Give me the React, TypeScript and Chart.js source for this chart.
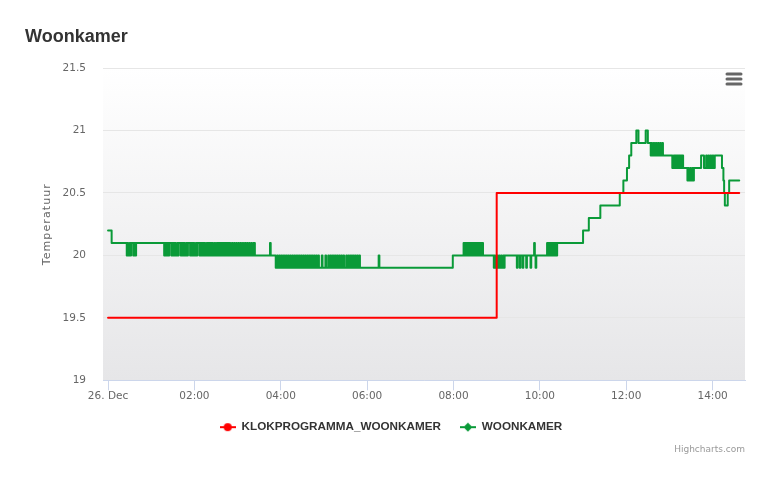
import React, { useEffect, useRef } from 'react';
import { Chart, registerables } from 'chart.js';

Chart.register(...registerables);

// ---- text ----
const chartTitle = 'Woonkamer';
const yAxisTitle = 'Temperatuur';
const seriesNames = ['KLOKPROGRAMMA_WOONKAMER', 'WOONKAMER'];
const creditText = 'Highcharts.com';

// ---- axes (x in minutes since 26 Dec 00:00) ----
const xMinMinutes = -7;
const xMaxMinutes = 885;
const xTickMinutes = [0, 120, 240, 360, 480, 600, 720, 840];
const xTickLabels = ['26. Dec', '02:00', '04:00', '06:00', '08:00', '10:00', '12:00', '14:00'];
const yTickValues = [19, 19.5, 20, 20.5, 21, 21.5];
const yTickLabels = ['19', '19.5', '20', '20.5', '21', '21.5'];

// ---- series: [minute, value] step changes ----
const klokSteps: [number, number][] = [
  [0, 19.5], [540, 20.5], [877, 20.5],
];

const woonNight: [number, number][] = [
  [0, 20.2], [5, 20.1],
  [26, 20.0], [27, 20.1], [28, 20.0], [30, 20.1], [31, 20.0], [32, 20.1], [35, 20.0], [36, 20.1], [38, 20.0], [39, 20.1],
  [78, 20.0], [79, 20.1], [81, 20.0], [82, 20.1], [84, 20.0], [85, 20.1], [88, 20.0], [89, 20.1], [91, 20.0], [92, 20.1],
  [94, 20.0], [96, 20.1], [97, 20.0], [98, 20.1], [101, 20.0], [102, 20.1], [104, 20.0], [105, 20.1], [107, 20.0], [109, 20.1],
  [110, 20.0], [111, 20.1], [114, 20.0], [115, 20.1], [117, 20.0], [118, 20.1], [120, 20.0], [122, 20.1], [123, 20.0], [124, 20.1],
  [127, 20.0], [128, 20.1], [130, 20.0], [131, 20.1], [133, 20.0], [134, 20.1], [135, 20.0], [137, 20.1], [138, 20.0], [139, 20.1],
  [141, 20.0], [142, 20.1], [144, 20.0], [145, 20.1], [146, 20.0], [148, 20.1], [149, 20.0], [151, 20.1], [152, 20.0], [153, 20.1],
  [155, 20.0], [156, 20.1], [158, 20.0], [159, 20.1], [161, 20.0], [162, 20.1], [164, 20.0], [165, 20.1], [167, 20.0], [168, 20.1],
  [170, 20.0], [172, 20.1], [173, 20.0], [175, 20.1], [176, 20.0], [178, 20.1], [179, 20.0], [181, 20.1], [182, 20.0], [184, 20.1],
  [185, 20.0], [187, 20.1], [188, 20.0], [190, 20.1], [191, 20.0], [193, 20.1], [194, 20.0], [196, 20.1], [197, 20.0], [199, 20.1],
  [200, 20.0], [202, 20.1], [204, 20.0],
  [225, 20.1], [226, 20.0],
];

const woonEarly: [number, number][] = [
  [233, 19.9], [235, 20.0], [236, 19.9], [238, 20.0], [239, 19.9], [241, 20.0], [242, 19.9], [244, 20.0], [245, 19.9],
  [247, 20.0], [248, 19.9], [250, 20.0], [251, 19.9], [253, 20.0], [254, 19.9], [256, 20.0], [257, 19.9], [259, 20.0],
  [260, 19.9], [262, 20.0], [263, 19.9], [265, 20.0], [266, 19.9], [268, 20.0], [269, 19.9], [271, 20.0], [272, 19.9],
  [274, 20.0], [275, 19.9], [277, 20.0], [278, 19.9], [280, 20.0], [281, 19.9], [283, 20.0], [284, 19.9], [286, 20.0],
  [287, 19.9], [289, 20.0], [290, 19.9], [292, 20.0], [293, 19.9],
  [297, 20.0], [298, 19.9], [302, 20.0], [303, 19.9],
  [306, 20.0], [307, 19.9], [309, 20.0], [310, 19.9], [312, 20.0], [313, 19.9], [315, 20.0], [316, 19.9], [318, 20.0],
  [319, 19.9], [321, 20.0], [322, 19.9], [324, 20.0], [325, 19.9], [327, 20.0], [328, 19.9], [331, 20.0], [332, 19.9],
  [334, 20.0], [335, 19.9], [337, 20.0], [338, 19.9], [340, 20.0], [341, 19.9], [343, 20.0], [344, 19.9], [346, 20.0],
  [347, 19.9], [349, 20.0], [350, 19.9],
  [376, 20.0], [377, 19.9],
];

const woonMorning: [number, number][] = [
  [479, 20.0],
  [494, 20.1], [495, 20.0], [496, 20.1], [498, 20.0], [499, 20.1], [501, 20.0], [502, 20.1], [504, 20.0], [505, 20.1],
  [507, 20.0], [508, 20.1], [510, 20.0], [511, 20.1], [513, 20.0], [514, 20.1], [516, 20.0], [517, 20.1], [519, 20.0],
  [520, 20.1], [521, 20.0],
  [536, 19.9], [537, 20.0], [538, 19.9], [540, 20.0], [541, 19.9], [543, 20.0], [544, 19.9], [546, 20.0], [547, 19.9],
  [549, 20.0], [550, 19.9], [551, 20.0],
  [568, 19.9], [569, 20.0], [572, 19.9], [573, 20.0], [576, 19.9], [577, 20.0], [581, 19.9], [582, 20.0], [587, 19.9],
  [588, 20.0], [592, 20.1], [593, 20.0], [594, 19.9], [595, 20.0],
  [610, 20.1], [611, 20.0], [612, 20.1], [614, 20.0], [615, 20.1], [617, 20.0], [618, 20.1], [620, 20.0], [621, 20.1],
  [623, 20.0], [624, 20.1],
];

const woonAfternoon: [number, number][] = [
  [660, 20.2], [668, 20.3], [684, 20.4], [711, 20.5], [716, 20.6], [721, 20.7], [724, 20.8], [727, 20.9],
  [734, 21.0], [737, 20.9], [747, 21.0], [750, 20.9],
  [754, 20.8], [755, 20.9], [756, 20.8], [758, 20.9], [759, 20.8], [761, 20.9], [762, 20.8], [764, 20.9], [765, 20.8],
  [767, 20.9], [768, 20.8], [770, 20.9], [771, 20.8],
  [784, 20.7], [786, 20.8], [788, 20.7], [789, 20.8], [791, 20.7], [792, 20.8], [794, 20.7], [795, 20.8], [797, 20.7],
  [798, 20.8], [799, 20.7],
  [805, 20.6], [806, 20.7], [807, 20.6], [809, 20.7], [810, 20.6], [812, 20.7], [813, 20.6], [814, 20.7],
  [824, 20.8], [828, 20.7], [831, 20.8], [832, 20.7], [834, 20.8], [835, 20.7], [837, 20.8], [838, 20.7], [840, 20.8],
  [841, 20.7], [843, 20.8],
  [853, 20.7], [855, 20.6], [856, 20.5], [857, 20.4], [861, 20.5], [863, 20.6], [877, 20.6],
];

const woonSteps = [...woonNight, ...woonEarly, ...woonMorning, ...woonAfternoon];

// ---- styles ----
const red = '#ff0000';
const green = '#0a9a38';

function makeMarker(color: string, shape: 'circle' | 'diamond'): HTMLCanvasElement {
  const c = document.createElement('canvas');
  c.width = 16;
  c.height = 10;
  const g = c.getContext('2d')!;
  g.strokeStyle = color;
  g.lineWidth = 2;
  g.beginPath();
  g.moveTo(0, 5);
  g.lineTo(16, 5);
  g.stroke();
  g.fillStyle = color;
  g.beginPath();
  if (shape === 'circle') {
    g.arc(8, 5, 4, 0, Math.PI * 2);
  } else {
    g.moveTo(8, 0.5);
    g.lineTo(12.5, 5);
    g.lineTo(8, 9.5);
    g.lineTo(3.5, 5);
    g.closePath();
  }
  g.fill();
  return c;
}

const backgroundPlugin = {
  id: 'plotBg',
  beforeDraw(chart: any) {
    const { ctx, chartArea } = chart;
    if (!chartArea) return;
    const grad = ctx.createLinearGradient(0, chartArea.top, 0, chartArea.bottom);
    grad.addColorStop(0, '#ffffff');
    grad.addColorStop(1, '#e6e6e8');
    ctx.save();
    ctx.fillStyle = grad;
    ctx.fillRect(chartArea.left, chartArea.top, chartArea.right - chartArea.left, chartArea.bottom - chartArea.top);
    ctx.restore();
  },
  afterDraw(chart: any) {
    const { ctx, chartArea, width } = chart;
    ctx.save();
    // export menu icon
    ctx.strokeStyle = '#666666';
    ctx.lineWidth = 3;
    ctx.lineCap = 'round';
    const x0 = chartArea.right - 18;
    const x1 = chartArea.right - 4;
    [6, 11, 16].forEach((dy) => {
      ctx.beginPath();
      ctx.moveTo(x0, chartArea.top + dy);
      ctx.lineTo(x1, chartArea.top + dy);
      ctx.stroke();
    });
    // credits
    ctx.fillStyle = '#999999';
    ctx.font = '9px "DejaVu Sans"';
    ctx.textAlign = 'right';
    ctx.textBaseline = 'middle';
    ctx.fillText(creditText, width - 26, 450);
    ctx.restore();
  },
};

const legendShiftPlugin = {
  id: 'legendShift',
  afterLayout(chart: any) {
    const lg = chart.legend;
    if (lg) {
      lg.left += 6;
      lg.right += 6;
    }
  },
};

export default function App() {
  const canvasRef = useRef<HTMLCanvasElement | null>(null);

  useEffect(() => {
    if (!canvasRef.current) return;
    const markers = [makeMarker(red, 'circle'), makeMarker(green, 'diamond')];
    const tickFont = { family: '"DejaVu Sans", sans-serif', size: 10.5 };

    const chart = new Chart(canvasRef.current, {
      type: 'line',
      data: {
        datasets: [
          {
            label: seriesNames[0],
            data: klokSteps.map(([x, y]) => ({ x, y })),
            borderColor: red,
            backgroundColor: red,
            borderWidth: 2,
            stepped: true,
            pointRadius: 0,
            borderJoinStyle: 'round',
            borderCapStyle: 'round',
          },
          {
            label: seriesNames[1],
            data: woonSteps.map(([x, y]) => ({ x, y })),
            borderColor: green,
            backgroundColor: green,
            borderWidth: 2,
            stepped: true,
            pointRadius: 0,
            borderJoinStyle: 'round',
            borderCapStyle: 'round',
          },
        ],
      },
      options: {
        animation: false,
        responsive: true,
        maintainAspectRatio: false,
        devicePixelRatio: 1,
        events: [],
        layout: { padding: { left: 25, right: 26, top: 0, bottom: 38 } },
        scales: {
          x: {
            type: 'linear',
            min: xMinMinutes,
            max: xMaxMinutes,
            afterBuildTicks: (s: any) => {
              s.ticks = xTickMinutes.map((v) => ({ value: v }));
            },
            afterFit: (s: any) => {
              s.height = 22;
            },
            ticks: {
              callback: (v: any) => xTickLabels[xTickMinutes.indexOf(Number(v))] ?? '',
              color: '#666666',
              font: tickFont,
              padding: 0,
              maxRotation: 0,
              autoSkip: false,
            },
            grid: {
              drawOnChartArea: false,
              drawTicks: true,
              tickLength: 10,
              color: '#ccd6eb',
              tickColor: '#ccd6eb',
            },
            border: { display: true, color: '#ccd6eb', width: 1 },
          },
          y: {
            type: 'linear',
            min: 19,
            max: 21.5,
            afterBuildTicks: (s: any) => {
              s.ticks = yTickValues.map((v) => ({ value: v }));
            },
            afterFit: (s: any) => {
              s.width = 78;
              if (!s.__spaced) {
                const orig = s.drawTitle;
                s.drawTitle = function (...args: any[]) {
                  const c = this.ctx;
                  c.save();
                  (c as any).letterSpacing = '1.1px';
                  orig.apply(this, args);
                  c.restore();
                };
                s.__spaced = true;
              }
            },
            ticks: {
              callback: (v: any) => yTickLabels[yTickValues.indexOf(Number(v))] ?? '',
              color: '#666666',
              font: tickFont,
              padding: 17,
            },
            grid: { color: '#e6e6e6', drawTicks: false, lineWidth: 1 },
            border: { display: false },
            title: {
              display: true,
              text: yAxisTitle,
              color: '#666666',
              font: { family: '"DejaVu Sans", sans-serif', size: 11 },
              padding: { top: 16, bottom: 0 },
            },
          },
        },
        plugins: {
          title: {
            display: true,
            text: chartTitle,
            align: 'start',
            color: '#333333',
            font: { family: '"Liberation Sans", Arial, sans-serif', size: 18, weight: 'bold' },
            padding: { top: 26, bottom: 20.4 },
          },
          legend: {
            display: true,
            position: 'bottom',
            labels: {
              usePointStyle: true,
              pointStyleWidth: 16,
              padding: 19,
              color: '#333333',
              font: { family: '"Liberation Sans", Arial, sans-serif', size: 11.7, weight: 'bold' },
              generateLabels: (ch: any) =>
                ch.data.datasets.map((ds: any, i: number) => ({
                  text: ds.label,
                  fillStyle: ds.borderColor,
                  strokeStyle: ds.borderColor,
                  fontColor: '#333333',
                  lineWidth: 0,
                  pointStyle: markers[i],
                  hidden: false,
                  datasetIndex: i,
                })),
            },
          },
          tooltip: { enabled: false },
        },
      },
      plugins: [backgroundPlugin, legendShiftPlugin],
    } as any);

    return () => chart.destroy();
  }, []);

  return (
    <div style={{ position: 'absolute', left: 0, top: 0, width: 771, height: 481, background: '#ffffff' }}>
      <canvas ref={canvasRef} />
    </div>
  );
}
